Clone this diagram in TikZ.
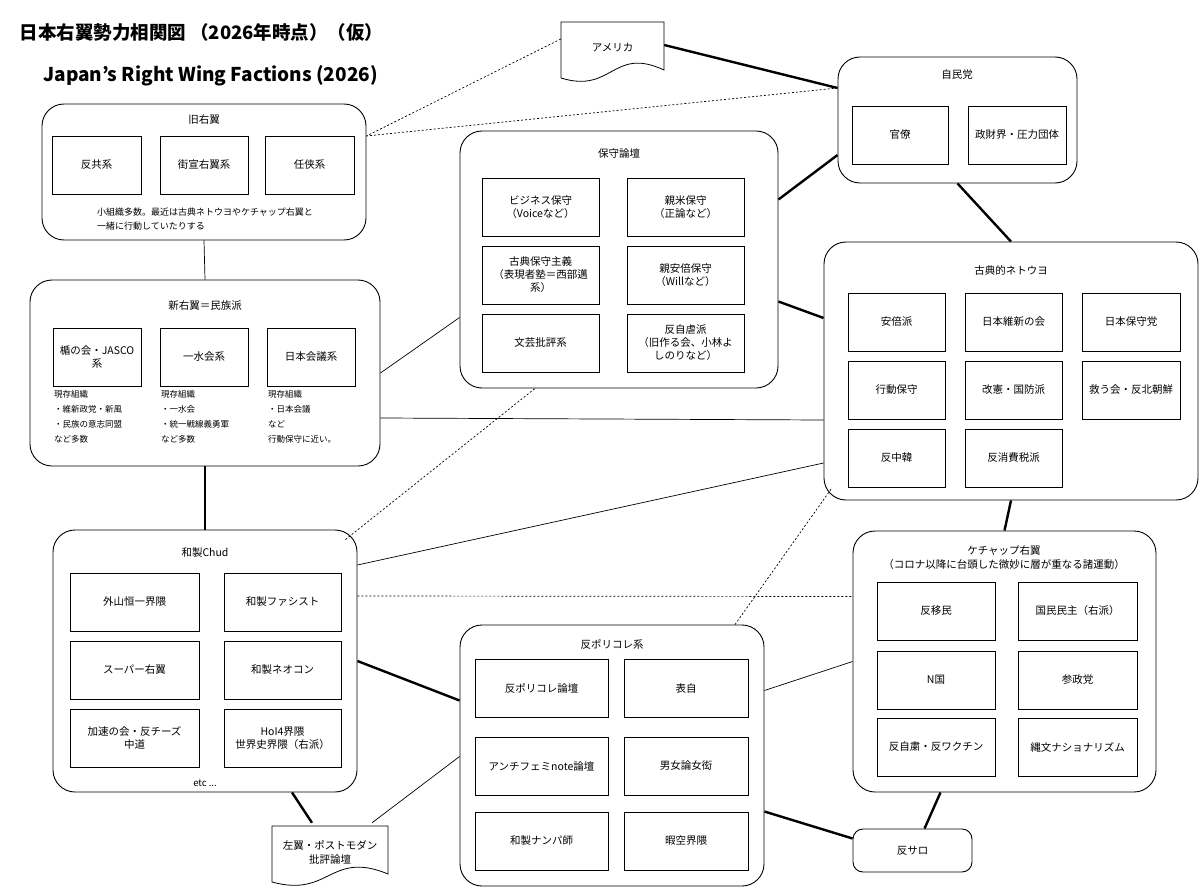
\documentclass[tikz,border=0pt]{standalone}
\usepackage{fontspec}
\setmainfont{Noto Sans CJK JP}
\usetikzlibrary{calc}
\tikzset{
  box/.style={draw,line width=0.8pt,align=center,inner sep=1pt,font=\fontsize{10.5}{13}\selectfont},
  grp/.style={draw,line width=0.9pt,rounded corners=22pt},
  ttl/.style={font=\fontsize{10.5}{14}\selectfont,align=center},
  note/.style={font=\fontsize{8.5}{15}\selectfont,align=left,anchor=north west,inner sep=0pt},
  thin/.style={line width=0.7pt},
  thick/.style={line width=2.4pt},
  dsh/.style={line width=0.7pt,dash pattern=on 2pt off 2pt},
}
\newcommand\bx[6]{\node[box,minimum width={#4-#2},minimum height={#5-#3}] (#1) at ({(#2+#4)/2},{(#3+#5)/2}) {#6};}
\newcommand\gp[5]{\node[grp,minimum width={#4-#2},minimum height={#5-#3}] (#1) at ({(#2+#4)/2},{(#3+#5)/2}) {};}
\newcommand\docshp[6]{%
  \node[align=center,font=\fontsize{10.5}{14}\selectfont,minimum width={#4-#2},minimum height={#5-#3}] (#1) at ({(#2+#4)/2},{(#3+#5)/2-3}) {#6};
  \draw[line width=0.8pt,fill=white] (#2,#3) -- (#4,#3) -- (#4,#5-10) .. controls ({#4-0.5*(#4-#2)},#5-34) and ({#2+0.5*(#4-#2)},#5+14) .. (#2,#5-2) -- cycle;
  \node[align=center,font=\fontsize{10.5}{14}\selectfont] at (#1) {#6};}
\begin{document}
\begin{tikzpicture}[x=1pt,y=-1pt]
\useasboundingbox[fill=white] (0,0) rectangle (1200,888);
\node[anchor=west,font=\bfseries\fontsize{18.5}{21}\selectfont] (title) at (16,32) {日本右翼勢力相関図 （2026年時点）（仮）};
\node[anchor=west,font=\bfseries\fontsize{19}{22}\selectfont] (etitle) at (40,76) {Japan's Right Wing Factions (2026)};

% groups
\gp{kyu}{42}{104}{366}{240}
\gp{shin}{30}{280}{380}{466}
\gp{hosh}{460}{131}{778}{388}
\gp{jimin}{838}{57}{1077}{183}
\gp{koten}{824}{242}{1198}{500}
\gp{kech}{853}{531}{1156}{792}
\gp{hanp}{460}{625}{764}{886}
\gp{chud}{53}{530}{357}{792}
\node[draw,line width=0.9pt,rounded corners=10pt,minimum width=119pt,minimum height=43pt,font=\fontsize{10.5}{13}\selectfont] (hansa) at (912.5,850.5) {反サロ};

\docshp{ame}{561}{22}{664}{80}{アメリカ}
\docshp{sayoku}{272}{826}{388}{884}{左翼・ポストモダン\\批評論壇}

% 旧右翼
\node[ttl] (kyut) at (204,120) {旧右翼};
\bx{k1}{52}{136}{141}{194}{反共系}
\bx{k2}{160}{136}{248}{194}{街宣右翼系}
\bx{k3}{265}{136}{354}{194}{任侠系}
\node[font=\fontsize{9}{14}\selectfont,align=left] (kyun) at (205,219) {小組織多数。最近は古典ネトウヨやケチャップ右翼と\\一緒に行動していたりする};

% 新右翼
\node[ttl] (shint) at (205,306) {新右翼＝民族派};
\bx{s1}{53}{328}{141}{386}{楯の会・JASCO\\系}
\bx{s2}{160}{328}{248}{386}{一水会系}
\bx{s3}{267}{328}{355}{386}{日本会議系}
\node[note] (sn1) at (54,390) {現存組織\\ ・維新政党・新風\\ ・民族の意志同盟\\など多数};
\node[note] (sn2) at (161,390) {現存組織\\ ・一水会\\ ・統一戦線義勇軍\\など多数};
\node[note] (sn3) at (268,390) {現存組織\\ ・日本会議\\など\\行動保守に近い。};

% 保守論壇
\node[ttl] (hosht) at (619,154) {保守論壇};
\bx{h1}{482}{178}{599}{236}{ビジネス保守\\（Voiceなど）}
\bx{h2}{627}{178}{744}{236}{親米保守\\（正論など）}
\bx{h3}{482}{246}{599}{304}{古典保守主義\\（表現者塾＝西部邁\\系）}
\bx{h4}{627}{246}{744}{304}{親安倍保守\\（Willなど）}
\bx{h5}{482}{314}{599}{372}{文芸批評系}
\bx{h6}{627}{314}{744}{372}{反自虐派\\（旧作る会、小林よ\\しのりなど）}

% 自民党
\node[ttl] (jimint) at (957,75) {自民党};
\bx{j1}{852}{106}{948}{164}{官僚}
\bx{j2}{968}{106}{1066}{164}{政財界・圧力団体}

% 古典的ネトウヨ
\node[ttl] (kotent) at (1011,270) {古典的ネトウヨ};
\bx{n1}{848}{293}{945}{351}{安倍派}
\bx{n2}{965}{293}{1062}{351}{日本維新の会}
\bx{n3}{1082}{293}{1180}{351}{日本保守党}
\bx{n4}{848}{361}{945}{419}{行動保守}
\bx{n5}{965}{361}{1062}{419}{改憲・国防派}
\bx{n6}{1082}{361}{1180}{419}{救う会・反北朝鮮}
\bx{n7}{848}{429}{945}{487}{反中韓}
\bx{n8}{965}{429}{1062}{487}{反消費税派}

% ケチャップ右翼
\node[ttl] (kecht) at (1004,558) {ケチャップ右翼\\（コロナ以降に台頭した微妙に層が重なる諸運動）};
\bx{c1}{877}{582}{995}{640}{反移民}
\bx{c2}{1018}{582}{1137}{640}{国民民主（右派）}
\bx{c3}{877}{651}{995}{709}{N国}
\bx{c4}{1018}{651}{1137}{709}{参政党}
\bx{c5}{877}{718}{995}{776}{反自粛・反ワクチン}
\bx{c6}{1018}{718}{1137}{776}{縄文ナショナリズム}

% 反ポリコレ系
\node[ttl] (hanpt) at (612,644) {反ポリコレ系};
\bx{p1}{475}{659}{608}{717}{反ポリコレ論壇}
\bx{p2}{624}{659}{748}{717}{表自}
\bx{p3}{475}{737}{608}{795}{アンチフェミnote論壇}
\bx{p4}{624}{737}{748}{795}{男女論女衒}
\bx{p5}{475}{812}{608}{870}{和製ナンパ師}
\bx{p6}{624}{812}{748}{870}{暇空界隈}

% 和製Chud
\node[ttl] (chudt) at (205,553) {和製Chud};
\bx{w1}{70}{573}{199}{631}{外山恒一界隈}
\bx{w2}{224}{573}{341}{631}{和製ファシスト}
\bx{w3}{70}{641}{199}{699}{スーパー右翼}
\bx{w4}{224}{641}{341}{699}{和製ネオコン}
\bx{w5}{70}{709}{199}{767}{加速の会・反チーズ\\中道}
\bx{w6}{224}{709}{341}{767}{HoI4界隈\\世界史界隈（右派）}
\node[font=\fontsize{9.5}{12}\selectfont] (etc) at (205,783) {etc ...};

% connectors
\coordinate (kyuR) at ([yshift=36pt]kyu.east);
\draw[dsh] ([yshift=9pt]ame.west) -- (kyuR);
\draw[dsh] ([yshift=32pt]jimin.west) -- (kyuR);
\draw[thick] ([yshift=3pt]ame.east) -- ([yshift=32pt]jimin.west);
\draw[thin] (kyu.south) -- (shin.north);
\draw[thin] (shin.east) -- ([yshift=-58pt]hosh.west);
\draw[thin] ([yshift=-45pt]shin.east) -- ([yshift=-49pt]koten.west);
\draw[thick] (shin.south) -- (chud.north);
\draw[dsh] ([xshift=-12pt,yshift=-10pt]chud.north east) -- ([xshift=-84pt]hosh.south);
\draw[thin] ([yshift=96pt]chud.east) -- ([yshift=-92pt]koten.west);
\draw[dsh] ([yshift=65pt]chud.east) -- ([yshift=65pt]kech.west);
\draw[thick] (chud.east) -- ([yshift=55pt]hanp.west);
\draw[thick] ([xshift=87pt]chud.south) -- ([xshift=-18pt]sayoku.north);
\draw[thin] ([xshift=42pt]sayoku.north) -- ([yshift=-1pt]hanp.west);
\draw[thick] ([yshift=60pt]hosh.east) -- ([yshift=-35pt]jimin.west);
\draw[thick] ([yshift=-42pt]hosh.east) -- ([yshift=53pt]koten.west);
\draw[thick] (jimin.south) -- (koten.north);
\draw[thick] (koten.south) -- (kech.north);
\draw[dsh] ([xshift=123pt]hanp.north) -- ([xshift=8pt,yshift=12pt]koten.south west);
\draw[thin] ([yshift=65pt]hanp.east) -- (kech.west);
\draw[thick] ([yshift=-56pt]hanp.east) -- ([yshift=12pt]hansa.west);
\draw[thick] ([xshift=-64pt]kech.south) -- ([xshift=12pt]hansa.north);
\end{tikzpicture}
\end{document}
